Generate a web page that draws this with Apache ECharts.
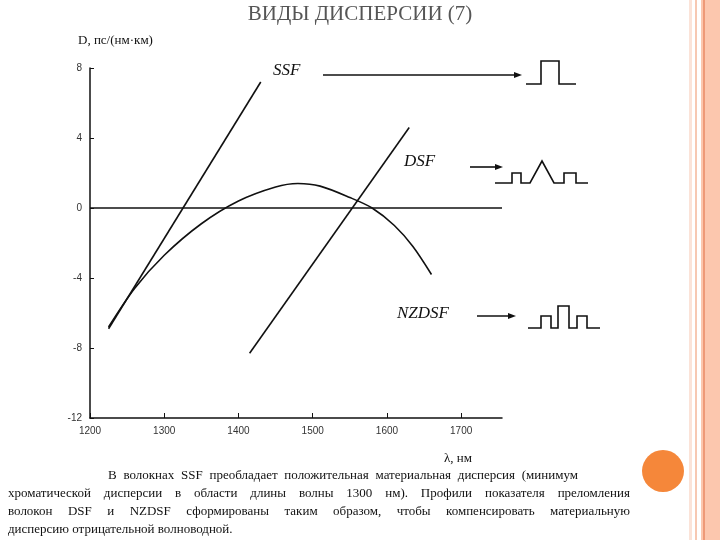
<!DOCTYPE html>
<html><head><meta charset="utf-8">
<script src="https://cdn.jsdelivr.net/npm/echarts@6/dist/echarts.min.js"></script>
<style>
body{margin:0;width:720px;height:540px;background:#fff;position:relative;overflow:hidden;font-family:"Liberation Serif",serif}
#main{position:absolute;left:0;top:0;width:720px;height:540px}
#txt{position:absolute;left:8px;top:466px;width:622px;font-size:13px;line-height:18px;color:#111}
#txt div{text-align:justify;text-align-last:justify;white-space:nowrap}
#txt div.last{text-align-last:left}
</style></head><body>
<div id="main"></div>
<div id="txt">
<div style="padding-left:100px;padding-right:52px">В волокнах SSF преобладает положительная материальная дисперсия (минимум</div>
<div>хроматической дисперсии в области длины волны 1300 нм). Профили показателя преломления</div>
<div>волокон DSF и NZDSF сформированы таким образом, чтобы компенсировать материальную</div>
<div class="last">дисперсию отрицательной волноводной.</div>
</div>
<script>
const xTicks = [1200, 1300, 1400, 1500, 1600, 1700];
const yTicks = [-12, -8, -4, 0, 4, 8];
const ssf = [[1225, -6.9], [1430, 7.2]];
const dsf = [[1415, -8.3], [1630, 4.6]];
const nzdsf = [[1225, -6.8], [1260, -4.6], [1300, -2.7], [1350, -0.9], [1400, 0.4], [1450, 1.2],
  [1480, 1.4], [1510, 1.25], [1550, 0.6], [1580, 0], [1610, -1.0], [1635, -2.2], [1660, -3.8]];

const chart = echarts.init(document.getElementById('main'));
const line = (d, smooth) => ({type: 'line', data: d, smooth: smooth, symbol: 'none',
  lineStyle: {color: '#111', width: 1.6}});
const poly = pts => ({type: 'polyline', shape: {points: pts}, style: {stroke: '#111', lineWidth: 1.6, fill: null}});
const arrow = (x1, x2, y) => [
  {type: 'line', shape: {x1: x1, y1: y, x2: x2 - 6, y2: y}, style: {stroke: '#111', lineWidth: 1.6}},
  {type: 'polygon', shape: {points: [[x2, y], [x2 - 8, y - 3], [x2 - 8, y + 3]]}, style: {fill: '#111'}}
];
const lab = (t, x, y) => ({type: 'text', left: x, top: y, style: {text: t, font: 'italic 17px "Liberation Serif"', fill: '#111'}});

chart.setOption({
  animation: false,
  grid: {left: 90, right: 218, top: 68, bottom: 122},
  xAxis: {type: 'value', min: 1200, max: 1755, interval: 100,
    axisLine: {onZero: false, lineStyle: {color: '#111', width: 1.5}},
    axisTick: {inside: true, length: 5, lineStyle: {color: '#111'}},
    axisLabel: {color: '#333', fontSize: 10, showMaxLabel: false,
      formatter: v => xTicks.includes(v) ? v : ''},
    splitLine: {show: false}},
  yAxis: {type: 'value', min: -12, max: 8, interval: 4,
    axisLine: {show: true, lineStyle: {color: '#111', width: 1.5}},
    axisTick: {show: true, inside: true, length: 4, lineStyle: {color: '#111'}},
    axisLabel: {color: '#333', fontSize: 10, formatter: v => yTicks.includes(v) ? v : ''},
    splitLine: {show: false}},
  series: [
    line(ssf, false),
    line(dsf, false),
    Object.assign(line(nzdsf, 0.3), {
      markLine: {silent: true, symbol: 'none', label: {show: false},
        lineStyle: {color: '#111', width: 1.5, type: 'solid'}, data: [{yAxis: 0}]}})
  ],
  graphic: [
    {type: 'text', left: 'center', top: 4, style: {text: 'ВИДЫ ДИСПЕРСИИ (7)', font: '21px "Liberation Serif"', fill: '#555', x: -30}},
    {type: 'text', left: 78, top: 34, style: {text: 'D, пс/(нм·км)', font: '13px "Liberation Serif"', fill: '#111'}},
    {type: 'text', left: 444, top: 452, style: {text: 'λ, нм', font: '13px "Liberation Serif"', fill: '#111'}},
    lab('SSF', 273, 62), lab('DSF', 404, 153), lab('NZDSF', 397, 305),
    ...arrow(323, 522, 75), ...arrow(470, 503, 167), ...arrow(477, 516, 316),
    poly([[526, 84], [541, 84], [541, 61], [559, 61], [559, 84], [576, 84]]),
    poly([[495, 183], [512, 183], [512, 173], [521, 173], [521, 183], [530, 183], [542, 161], [554, 183],
      [564, 183], [564, 173], [576, 173], [576, 183], [588, 183]]),
    poly([[528, 328], [541, 328], [541, 316], [551, 316], [551, 328], [558, 328], [558, 306], [569, 306],
      [569, 328], [577, 328], [577, 316], [587, 316], [587, 328], [600, 328]]),
    {type: 'circle', shape: {cx: 663, cy: 471, r: 21}, style: {fill: '#f5873a'}},
    {type: 'rect', shape: {x: 689, y: 0, width: 3, height: 540}, style: {fill: '#fbe3d8'}},
    {type: 'rect', shape: {x: 695, y: 0, width: 2, height: 540}, style: {fill: '#f7c8b2'}},
    {type: 'rect', shape: {x: 701, y: 0, width: 19, height: 540}, style: {fill: '#fcc7ae'}},
    {type: 'rect', shape: {x: 703, y: 0, width: 2, height: 540}, style: {fill: '#ee9a78'}}
  ]
});
</script></body></html>
